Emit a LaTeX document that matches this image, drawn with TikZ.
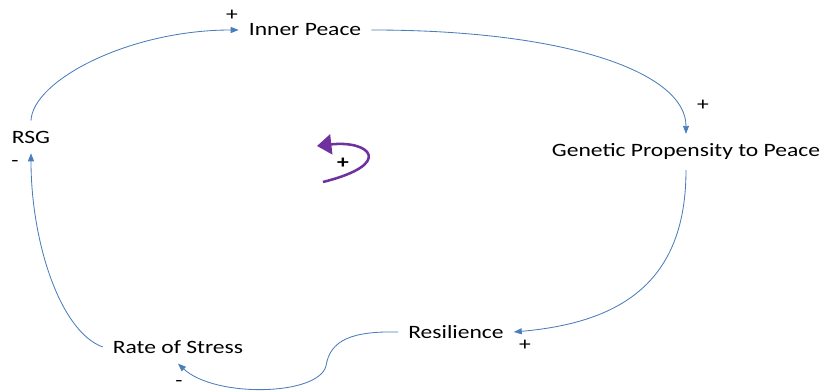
\documentclass[tikz,border=0pt]{standalone}
\usepackage{fontspec}
\setmainfont{Carlito}[FakeStretch=1.25]
\usetikzlibrary{arrows.meta}
\definecolor{linkblue}{HTML}{4A7EBB}
\definecolor{loopviolet}{HTML}{7030A0}

\begin{document}
\begin{tikzpicture}[x=0.025cm, y=0.025cm,
  var/.style={inner sep=7pt, font=\fontsize{13.4}{16}\selectfont},
  sign/.style={inner sep=1pt, font=\fontsize{13.4}{16}\selectfont},
  link/.style={linkblue, line width=0.6pt, -{Triangle[length=2mm, width=1.5mm]}},
  loopline/.style={loopviolet, line width=1.8pt, -{Triangle[length=3.6mm, width=5mm]}},
]
\useasboundingbox (0,0) rectangle (825,392);

\node[var] (rsg) at (31,255) {RSG};
\node[var] (ip) at (305,362) {Inner Peace};
\node[var] (gpp) at (686,240) {Genetic Propensity to Peace};
\node[var] (res) at (456,60) {Resilience};
\node[var] (ros) at (178,45) {Rate of Stress};

\node[sign] (ipsign) at (232,377) {+};
\node[sign] (rsgsign) at (15,228) {-};
\node[sign] (gppsign) at (703,287) {+};
\node[sign] (ressign) at (525,47) {+};
\node[sign] (rossign) at (179,8) {-};
\node[sign, font=\fontsize{13.4}{16}\selectfont\bfseries] (loopsign) at (343,229) {+};

\draw[link] (rsg.north) to[out=88, in=180, out distance=1cm, in distance=2.75cm] (ip.west);
\draw[link] (ip.east) to[out=0, in=90, out distance=5cm, in distance=1.5cm] (gpp.north);
\draw[link] (gpp.south) to[out=-90, in=5, out distance=2.75cm, in distance=2.75cm] (res.east);
\draw[link] (res.west) .. controls (352,61) and (330,52) .. (326,26)
  .. controls (318,-4) and (215,-6) .. (ros.south);
\draw[link] (ros.west) to[out=160, in=-90, out distance=1.14cm, in distance=2.2cm] (rsg.south);

% loop symbol
\draw[loopline] (323,210) .. controls (395,228) and (370,252) .. (317,246);

\end{tikzpicture}
\end{document}
